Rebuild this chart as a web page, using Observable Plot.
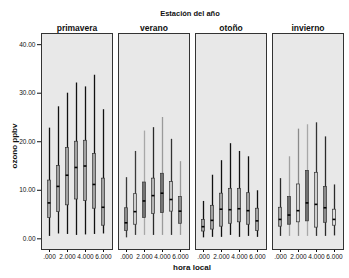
<!DOCTYPE html>
<html>
<head>
<meta charset="utf-8">
<script src="https://cdn.jsdelivr.net/npm/d3@7"></script>
<script src="https://cdn.jsdelivr.net/npm/@observablehq/plot@0.6"></script>
<style>
  html, body { margin: 0; padding: 0; background: #fff; }
  #chart svg { display: block; }
</style>
</head>
<body>
<div id="chart"></div>
<script>
// Categories
const seasons = ["primavera", "verano", "otoño", "invierno"];
const hours = [0, 1, 2, 3, 4, 5, 6];
const yTicks = [0, 10, 20, 30, 40];
const xTicks = [0, 2, 4, 6];

// Box-plot statistics (ozono ppbv), one row per season, one value per hour
const whiskerLow = [
  [0.5, 1.0, 0.9, 0.7, 0.8, 0.9, 1.0],
  [0.2, 0.7, 0.7, 0.7, 0.7, 0.7, 0.7],
  [0.2, 0.3, 0.3, 0.7, 0.3, 0.5, 0.3],
  [0.5, 0.5, 0.5, 0.5, 0.5, 0.5, 0.6]
];
const quart1 = [
  [4.3, 5.5, 6.9, 8.1, 7.8, 6.2, 2.7],
  [1.6, 2.9, 4.3, 5.1, 5.3, 5.6, 3.1],
  [1.5, 1.9, 2.5, 3.1, 3.4, 2.9, 1.6],
  [2.5, 2.9, 3.4, 3.6, 2.3, 3.3, 2.7]
];
const median = [
  [7.4, 10.8, 13.1, 14.7, 15.0, 11.2, 6.5],
  [3.3, 5.6, 7.8, 8.9, 9.4, 8.1, 5.7],
  [2.5, 3.8, 6.1, 6.0, 6.2, 5.8, 3.7],
  [4.0, 4.9, 5.8, 7.4, 7.1, 6.4, 4.0]
];
const quart3 = [
  [12.0, 15.0, 18.7, 20.0, 20.2, 17.5, 12.4],
  [6.3, 9.2, 11.6, 12.4, 13.4, 11.7, 8.6],
  [3.9, 6.8, 9.3, 10.3, 10.3, 9.4, 6.2],
  [6.4, 8.6, 11.2, 14.0, 13.6, 10.7, 6.0]
];
const whiskerHigh = [
  [22.8, 27.2, 30.0, 32.1, 31.3, 33.7, 26.6],
  [12.6, 18.0, 22.2, 22.9, 25.0, 20.5, 15.9],
  [7.7, 13.1, 16.1, 19.6, 18.0, 16.9, 9.9],
  [12.4, 16.9, 22.6, 23.5, 23.9, 21.0, 11.1]
];

// Colours (styling only)
const boxFill = [
  ["#a2a2a2", "#a2a2a2", "#a2a2a2", "#a2a2a2", "#a2a2a2", "#a2a2a2", "#a2a2a2"],
  ["#8c8c8c", "#cfcfcf", "#727272", "#b4b4b4", "#737373", "#c6c6c6", "#8e8e8e"],
  ["#a2a2a2", "#a2a2a2", "#a2a2a2", "#a2a2a2", "#a2a2a2", "#a2a2a2", "#a2a2a2"],
  ["#a8a8a8", "#6e6e6e", "#d6d6d6", "#707070", "#cdcdcd", "#8a8a8a", "#dedede"]
];
const whiskerColor = [
  ["#111", "#111", "#111", "#111", "#111", "#111", "#111"],
  ["#3a3a3a", "#3a3a3a", "#a8a8a8", "#2a2a2a", "#9a9a9a", "#333333", "#9a9a9a"],
  ["#111", "#111", "#111", "#111", "#111", "#111", "#111"],
  ["#2a2a2a", "#a0a0a0", "#8a8a8a", "#a8a8a8", "#333333", "#2a2a2a", "#2a2a2a"]
];

const rows = [];
seasons.forEach((s, i) => hours.forEach((h, j) => rows.push({
  season: s, hour: h,
  lo: whiskerLow[i][j], q1: quart1[i][j], med: median[i][j],
  q3: quart3[i][j], hi: whiskerHigh[i][j],
  fill: boxFill[i][j], wcol: whiskerColor[i][j]
})));

const font = "'Liberation Sans', Arial, sans-serif";
const boxInset = 1.6;

const chart = Plot.plot({
  width: 349,
  height: 278,
  marginLeft: 41,
  marginRight: 6,
  marginTop: 33,
  marginBottom: 29,
  style: { fontFamily: font, fontSize: "6.5px", background: "#fff", color: "#111" },
  fx: { domain: seasons, paddingInner: 0.08, paddingOuter: 0, axis: null, label: null },
  x: {
    type: "band", domain: hours, paddingInner: 0.3, paddingOuter: 0.45,
    ticks: xTicks, tickFormat: d => d === 0 ? ".000" : d.toFixed(3),
    tickSize: 3, tickPadding: 2, label: null
  },
  y: {
    domain: [-2.2, 42.3], ticks: yTicks, tickFormat: d => d.toFixed(2),
    tickSize: 4, tickPadding: 2, label: null
  },
  marks: [
    Plot.frame({ fill: "#e8e8e8" }),
    Plot.ruleX(rows, { fx: "season", x: "hour", y1: "lo", y2: "hi", stroke: "wcol", strokeWidth: 1.3 }),
    Plot.barY(rows, { fx: "season", x: "hour", y1: "q1", y2: "q3", fill: "fill", stroke: "#333", strokeWidth: 0.7, insetLeft: boxInset, insetRight: boxInset }),
    Plot.tickY(rows, { fx: "season", x: "hour", y: "med", stroke: "#000", strokeWidth: 1.6, insetLeft: boxInset, insetRight: boxInset }),
    Plot.frame({ stroke: "#333", strokeWidth: 1 }),
    Plot.text(seasons, { fx: d => d, text: d => d, frameAnchor: "top", lineAnchor: "bottom", dy: -3, fontWeight: "bold", fontSize: 8.5, fill: "#111" })
  ]
});

const svg = d3.select(chart);
svg.append("text")
  .attr("x", 190).attr("y", 14)
  .attr("text-anchor", "middle").attr("dominant-baseline", "middle")
  .attr("font-family", font).attr("font-weight", "bold").attr("font-size", 7.5)
  .attr("fill", "#111").text("Estación del año");
svg.append("text")
  .attr("x", 192).attr("y", 268)
  .attr("text-anchor", "middle").attr("dominant-baseline", "middle")
  .attr("font-family", font).attr("font-weight", "bold").attr("font-size", 8)
  .attr("fill", "#111").text("hora local");
svg.append("text")
  .attr("transform", "translate(15,146) rotate(-90)")
  .attr("text-anchor", "middle").attr("dominant-baseline", "middle")
  .attr("font-family", font).attr("font-weight", "bold").attr("font-size", 8)
  .attr("fill", "#111").text("ozono ppbv");

document.getElementById("chart").appendChild(chart);
</script>
</body>
</html>
